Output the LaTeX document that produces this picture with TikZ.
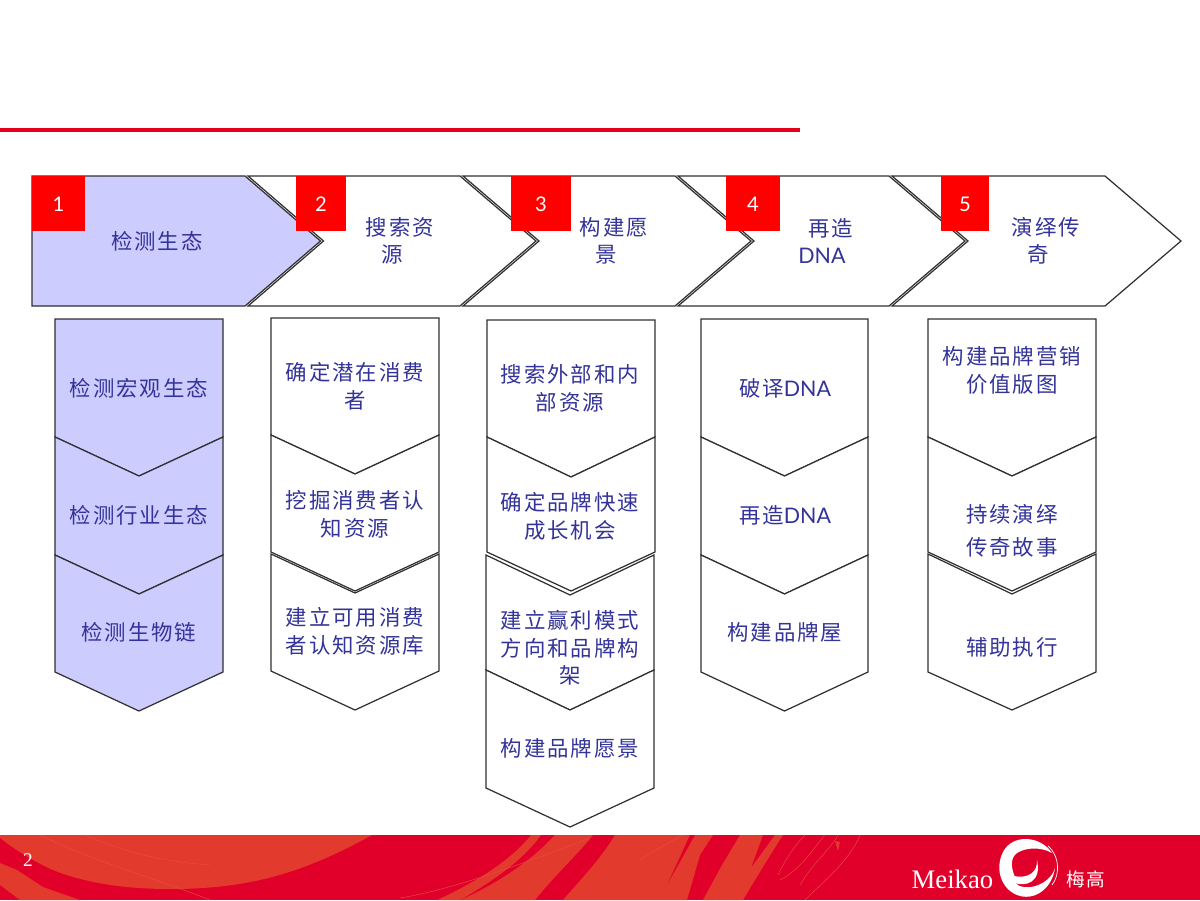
\documentclass[tikz,border=0pt]{standalone}
\usepackage{fontspec}
\setmainfont{Liberation Sans}
\newfontfamily\cjkf[LetterSpace=9]{Noto Sans CJK SC}
\newfontfamily\latf{Lato}
\newfontfamily\serf{Liberation Serif}
\definecolor{txtblue}{HTML}{333399}
\definecolor{paleblue}{HTML}{CCCCFF}
\definecolor{linegray}{HTML}{303030}
\definecolor{topred}{HTML}{E3001B}
\definecolor{bandred}{HTML}{E0002A}
\definecolor{bandlight}{HTML}{E33A2E}
\definecolor{markred}{HTML}{FF0000}
\tikzset{
  shapeline/.style={draw=linegray,line width=0.7pt,line join=miter},
  cjktext/.style={text=txtblue,align=center,inner sep=0pt,font=\cjkf\fontsize{12.2}{15.7}\selectfont},
  marksq/.style={fill=markred,draw=none},
  marknum/.style={text=white,inner sep=0pt,font=\latf\fontsize{11.5}{13}\selectfont},
  swoosh/.style={fill=bandlight,draw=none},
  hair/.style={draw=bandlight!90!white,line width=0.25pt}
}
% header: left, notch x, shoulder x, tip x, fill
\newcommand{\headchev}[5]{\path[shapeline,fill=#5] (#1,176) -- (#3,176) -- (#4,241) -- (#3,306) -- (#1,306) -- (#2,241) -- cycle;}
% column piece: xl xr sideTop notch sideBot tip fill
\newcommand{\colchev}[7]{\pgfmathsetmacro{\xm}{(#1+#2)/2}\path[shapeline,fill=#7] (#1,#3) -- (\xm,#4) -- (#2,#3) -- (#2,#5) -- (\xm,#6) -- (#1,#5) -- cycle;}
\begin{document}
\begin{tikzpicture}[x=0.02cm,y=-0.02cm]
\useasboundingbox (0,0) rectangle (1200,900);
\fill[white] (0,0) rectangle (1200,900);
% top rule
\fill[topred] (0,128) rectangle (800,132);
% footer band
\fill[bandred] (0,835) rectangle (1200,900);
% left sweep
\fill[swoosh] (0,835) -- (0,838) .. controls (15,850) and (35,862) .. (53,870) .. controls (85,883) and (125,889) .. (170,889) .. controls (245,889) and (300,875) .. (372,835) -- cycle;
\fill[swoosh] (0,863) -- (17,870) -- (43,887) -- (80,900) -- (20,900) -- (0,885) -- cycle;
\draw[hair] (40,835) .. controls (90,860) and (160,880) .. (210,900);
\draw[hair] (85,835) .. controls (130,855) and (170,862) .. (210,865);
% middle strokes
\fill[swoosh] (531,835) -- (541,835) .. controls (525,858) and (495,880) .. (460,900) -- (437,900) .. controls (470,885) and (510,862) .. (531,835) -- cycle;
\fill[swoosh] (555,835) -- (593,835) .. controls (580,852) and (555,875) .. (535,900) -- (460,900) .. controls (495,885) and (530,862) .. (555,835) -- cycle;
\draw[hair] (400,898) .. controls (450,890) and (520,865) .. (590,838);
% right wide stroke
\fill[swoosh] (615,835) -- (713,835) -- (700,855) -- (687,900) -- (563,900) .. controls (580,880) and (600,860) .. (615,835) -- cycle;
\fill[bandred] (690,835) -- (695,835) -- (668,883) -- cycle;
\fill[swoosh] (740,835) -- (763,835) -- (751,868) -- (775,835) -- (783,835) .. controls (770,855) and (755,880) .. (743,900) -- (712,900) -- (735,867) -- (720,900) -- (703,900) -- (722,865) -- cycle;
% fine lines
\draw[hair] (640,860) .. controls (655,850) and (670,842) .. (683,835);
\draw[hair] (778,875) .. controls (785,860) and (795,845) .. (805,835);
\draw[hair] (780,880) .. controls (800,870) and (812,850) .. (825,835);
\draw[hair] (800,885) .. controls (815,860) and (830,850) .. (838,835);
\draw[hair] (805,900) .. controls (825,880) and (850,860) .. (860,835);
\fill[swoosh] (835,841) -- (840,842) -- (838,851) -- cycle;
% footer texts and logo
\node[text=white,inner sep=0pt,font=\serf\fontsize{15.2}{18}\selectfont] (brand) at (952.5,879) {Meikao};
\node[text=white,inner sep=0pt,font=\serf\fontsize{11}{13}\selectfont] (pagenum) at (28,860) {2};
\fill[white] (1052,853) .. controls (1040,835) and (1012,834) .. (1003,852) .. controls (994,870) and (1002,891) .. (1020,896) .. controls (1036,900) and (1052,888) .. (1055,868) .. controls (1052,880) and (1036,889) .. (1024,887) .. controls (1016,886) and (1014,882) .. (1015,877) .. controls (1011,868) and (1010,858) .. (1017,853) .. controls (1026,847) and (1042,847) .. (1052,853) -- cycle;
\fill[white] (1037,860) .. controls (1038,872) and (1028,879) .. (1014,876) -- (1012,882) .. controls (1026,888) and (1042,882) .. (1037,860) -- cycle;
\draw[white,line width=0.4pt] (1048,846) .. controls (1060,856) and (1060,875) .. (1052,885);
\node[text=white,inner sep=0pt,font=\cjkf\fontsize{10.6}{13}\selectfont] (brandcn) at (1086,879) {梅高};
% header chevrons
\headchev{32}{32}{245}{320.5}{paleblue}
\headchev{248}{323.5}{460}{536}{white}
\headchev{463}{539}{675}{751}{white}
\headchev{678}{754}{889}{965}{white}
\headchev{892}{968}{1105}{1181}{white}
\fill[marksq] (32,176) rectangle (85,231);
\fill[marksq] (296,176) rectangle (346,231);
\fill[marksq] (511,176) rectangle (571,231);
\fill[marksq] (726,176) rectangle (780,231);
\fill[marksq] (941,176) rectangle (989,231);
\node[marknum] (n1) at (58.5,204) {1};
\node[marknum] (n2) at (321,204) {2};
\node[marknum] (n3) at (541,204) {3};
\node[marknum] (n4) at (753,204) {4};
\node[marknum] (n5) at (965,204) {5};
\node[cjktext] (h1) at (157,241) {检测生态};
\node[cjktext] (h2) at (400,241) {搜索资\\源\hspace*{0.32cm}};
\node[cjktext] (h3) at (614,241) {构建愿\\景\hspace*{0.32cm}};
\node[cjktext] (h4) at (831,241) {再造\\{\latf DNA}\hspace*{0.36cm}};
\node[cjktext] (h5) at (1046,241) {演绎传\\奇\hspace*{0.32cm}};
% column 1
\colchev{55}{223}{319}{319}{437}{476}{paleblue}
\colchev{55}{223}{437}{476}{555}{594}{paleblue}
\colchev{55}{223}{555}{594}{672}{711}{paleblue}
\node[cjktext] (a1) at (139,388) {检测宏观生态};
\node[cjktext] (a2) at (139,515) {检测行业生态};
\node[cjktext] (a3) at (139,632) {检测生物链};
% column 2
\colchev{271}{439}{318}{318}{435}{474}{white}
\colchev{271}{439}{435}{474}{552}{591}{white}
\colchev{271}{439}{554}{593}{671}{710}{white}
\node[cjktext] (b1) at (355,386.5) {确定潜在消费\\者};
\node[cjktext] (b2) at (355,514.5) {挖掘消费者认\\知资源};
\node[cjktext] (b3) at (355,631.5) {建立可用消费\\者认知资源库};
% column 3
\colchev{487}{655}{320}{320}{437}{477}{white}
\colchev{487}{655}{437}{477}{552}{591}{white}
\colchev{486}{654}{555}{595}{670}{710}{white}
\colchev{486}{654}{670}{710}{788}{827}{white}
\node[cjktext] (c1) at (570,388.5) {搜索外部和内\\部资源};
\node[cjktext] (c2) at (570,516.5) {确定品牌快速\\成长机会};
\node[cjktext] (c3) at (570,648) {建立赢利模式\\方向和品牌构\\架};
\node[cjktext] (c4) at (570,748) {构建品牌愿景};
% column 4
\colchev{701}{868}{319}{319}{437}{476}{white}
\colchev{701}{868}{437}{476}{555}{594}{white}
\colchev{701}{868}{555}{594}{672}{711}{white}
\node[cjktext] (d1) at (785,388) {破译{\latf DNA}};
\node[cjktext] (d2) at (785,515) {再造{\latf DNA}};
\node[cjktext] (d3) at (785,632) {构建品牌屋};
% column 5
\colchev{928}{1096}{319}{319}{437}{476}{white}
\colchev{928}{1096}{437}{476}{552}{591}{white}
\colchev{928}{1096}{554}{594}{672}{710}{white}
\node[cjktext] (e1) at (1012,370.5) {构建品牌营销\\价值版图};
\node[cjktext] (e2) at (1012,531) {持续演绎\\[0.1cm]传奇故事};
\node[cjktext] (e3) at (1012,647) {辅助执行};
\end{tikzpicture}
\end{document}
